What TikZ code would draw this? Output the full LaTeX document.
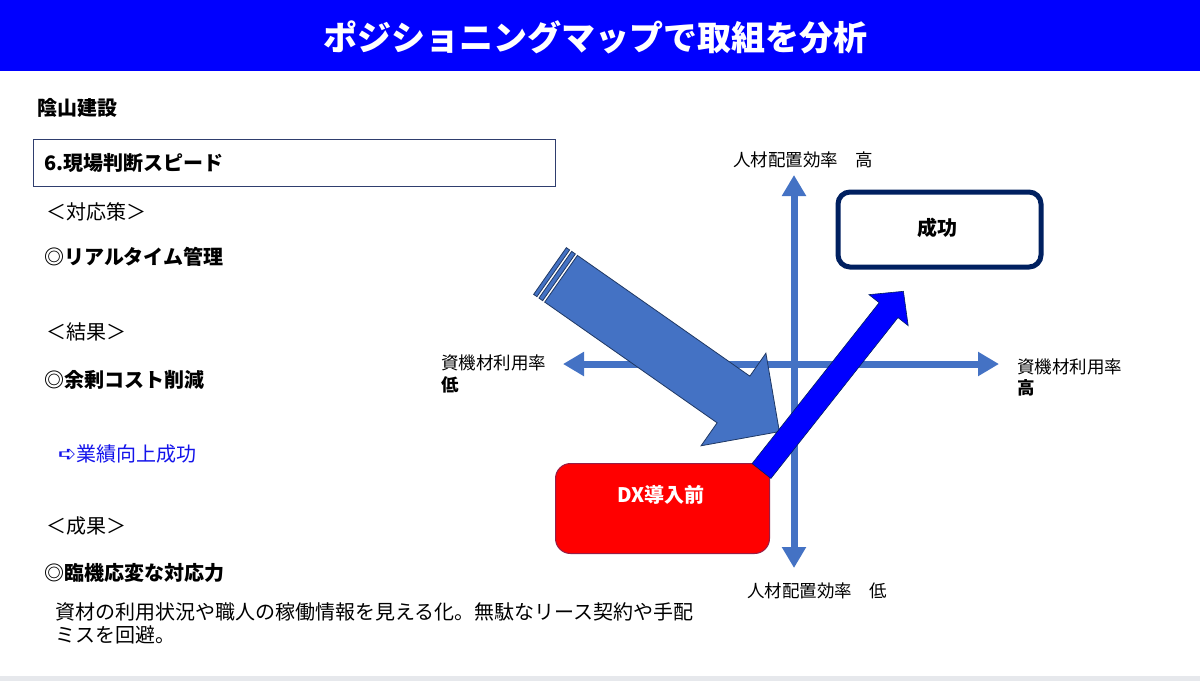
\documentclass[tikz,border=0pt]{standalone}
\usepackage{fontspec}
\newfontfamily\jp{Noto Sans CJK JP}
\newfontfamily\dv{DejaVu Sans}
\usetikzlibrary{arrows.meta}
\definecolor{titleblue}{RGB}{0,0,255}
\definecolor{axisblue}{RGB}{68,114,196}
\definecolor{edgeblue}{RGB}{31,56,100}
\definecolor{navy}{RGB}{0,32,96}
\definecolor{boxnavy}{RGB}{47,62,110}
\definecolor{linkblue}{RGB}{20,20,235}
\definecolor{redbox}{RGB}{255,0,0}
\definecolor{rededge}{RGB}{150,30,70}
\definecolor{bottomgray}{RGB}{230,232,236}
\begin{document}
\begin{tikzpicture}[x=1pt,y=-1pt,
  txt/.style={anchor=west,inner sep=0pt,font=\jp\fontsize{20}{24}\selectfont},
  btxt/.style={txt,font=\jp\bfseries\fontsize{20}{24}\selectfont},
  ptxt/.style={anchor=west,inner sep=0pt,font=\jp\fontsize{20}{24}\selectfont},
  ltxt/.style={anchor=west,inner sep=0pt,font=\jp\fontsize{17.5}{21}\selectfont},
  axis/.style={draw=axisblue,line width=7pt,
    arrows={Triangle[width=23pt,length=21pt]-Triangle[width=23pt,length=21pt]}},
  stripe/.style={fill=axisblue,draw=edgeblue,line width=0.8pt,line join=miter},
  blockarrow/.style={fill=titleblue,draw=navy,line width=0.6pt}]
\useasboundingbox (0,0) rectangle (1200,681);
\fill[white] (0,0) rectangle (1200,681);
\fill[bottomgray] (0,676) rectangle (1200,681);
% title bar
\fill[titleblue] (0,0) rectangle (1200,71);
\node[inner sep=0pt,font=\jp\bfseries\fontsize{34}{40}\selectfont,text=white] (title) at (595,37) {ポジショニングマップで取組を分析};
% left column
\node[btxt] (company) at (37,108) {陰山建設};
\node[draw=boxnavy,line width=1.2pt,anchor=north west,minimum width=522pt,minimum height=47pt,inner sep=0pt] (box6) at (33,139) {};
\node[btxt] (item6) at (44,163) {6.現場判断スピード};
\node[txt] (h1) at (46,212) {＜対応策＞};
\node[btxt] (m1) at (44,257) {◎リアルタイム管理};
\node[txt] (h2) at (46,332) {＜結果＞};
\node[btxt] (m2) at (44,380) {◎余剰コスト削減};
\node[txt,text=linkblue] (link) at (58,454) {{\dv\fontsize{22}{24}\selectfont ➪}業績向上成功};
\node[txt] (h3) at (46,526) {＜成果＞};
\node[btxt] (m3) at (44,573) {◎臨機応変な対応力};
\node[ptxt] (p1) at (55,612) {資材の利用状況や職人の稼働情報を見える化。無駄なリース契約や手配};
\node[ptxt] (p2) at (55,635) {ミスを回避。};
% axes
\coordinate (vtop) at (794,175);
\coordinate (vbot) at (794,568);
\coordinate (hleft) at (563,364);
\coordinate (hright) at (999,364);
\draw[axis] (vbot) -- (vtop);
\draw[axis] (hleft) -- (hright);
\node[ltxt] (ytop) at (733,160) {人材配置効率　高};
\node[ltxt] (ybot) at (747,591) {人材配置効率　低};
\node[ltxt] (xleft) at (441,363) {資機材利用率};
\node[ltxt,font=\jp\bfseries\fontsize{17.5}{21}\selectfont] (xleftlow) at (441,385) {低};
\node[ltxt] (xright) at (1017,367) {資機材利用率};
\node[ltxt,font=\jp\bfseries\fontsize{17.5}{21}\selectfont] (xrighthigh) at (1017,388) {高};
% DX box
\node[fill=redbox,draw=rededge,line width=1pt,rounded corners=15pt,anchor=north west,minimum width=214pt,minimum height=90pt,inner sep=0pt] (dx) at (555,463) {};
\node[inner sep=0pt,font=\jp\bfseries\fontsize{20}{24}\selectfont,text=white] (dxlabel) at (661,495) {DX導入前};
% striped arrow
\begin{scope}[shift={(550,271)},rotate=-35]
  \filldraw[stripe] (0,-28.5) rectangle (4,28.5);
  \filldraw[stripe] (6.5,-28.5) rectangle (11,28.5);
  \filldraw[stripe] (13.5,-28.5) -- (224,-28.5) -- (224,-56.5) -- (280,0) -- (224,56.5) -- (224,28.5) -- (13.5,28.5) -- cycle;
\end{scope}
% blue arrow
\begin{scope}[shift={(761.5,471)},rotate=51.7]
  \filldraw[blockarrow] (0,-12) -- (205,-12) -- (205,-25) -- (229,0) -- (205,25) -- (205,12) -- (0,12) -- cycle;
\end{scope}
% success box
\node[fill=white,draw=navy,line width=5pt,rounded corners=12pt,anchor=north west,minimum width=203pt,minimum height=75pt,inner sep=0pt] (success) at (835.5,189.5) {};
\node[inner sep=0pt,font=\jp\bfseries\fontsize{20}{24}\selectfont] (successlabel) at (937,228) {成功};
\end{tikzpicture}
\end{document}
